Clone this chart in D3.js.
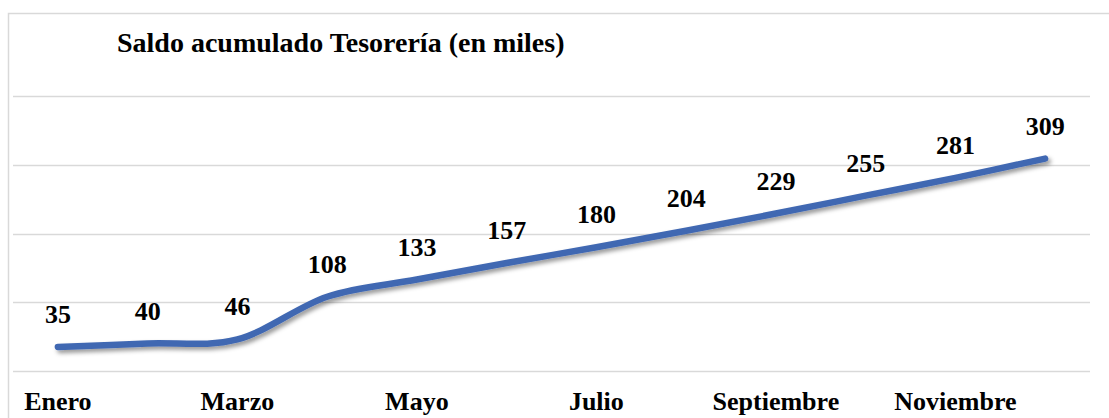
<!DOCTYPE html>
<html>
<head>
<meta charset="utf-8">
<script src="https://cdn.jsdelivr.net/npm/d3@7"></script>
<style>
  html, body { margin: 0; padding: 0; background: #ffffff; }
  svg { display: block; }
</style>
</head>
<body>
<script>
const months = ["Enero","Febrero","Marzo","Abril","Mayo","Junio","Julio","Agosto","Septiembre","Octubre","Noviembre","Diciembre"];
const saldo = [35, 40, 46, 108, 133, 157, 180, 204, 229, 255, 281, 309];
const shownMonths = ["Enero","Marzo","Mayo","Julio","Septiembre","Noviembre"];
const gridValues = [0, 100, 200, 300, 400];
const title = "Saldo acumulado Tesorería (en miles)";

const FONT = "'Liberation Serif', 'Times New Roman', serif";
const W = 1109, H = 418;
const svg = d3.select("body").append("svg").attr("width", W).attr("height", H)
  .attr("font-family", FONT).attr("font-weight", "bold");

// chart border
svg.append("rect").attr("x", 8.5).attr("y", 13.5).attr("width", 1130).attr("height", 430)
  .attr("fill", "#fff").attr("stroke", "#d9d9d9").attr("stroke-width", 1.5);

const x = d3.scaleBand().domain(months).range([13, 1090]);
const y = d3.scaleLinear().domain([0, 400]).range([371, 96]);

// gridlines
svg.append("g").selectAll("line").data(gridValues).join("line")
  .attr("x1", 13).attr("x2", 1090)
  .attr("y1", d => Math.round(y(d)) + 0.5).attr("y2", d => Math.round(y(d)) + 0.5)
  .attr("stroke", "#d9d9d9").attr("stroke-width", 1.5);

// shadow filter
const defs = svg.append("defs");
const f = defs.append("filter").attr("id", "sh").attr("x", "-10%").attr("y", "-50%").attr("width", "120%").attr("height", "200%");
f.append("feDropShadow").attr("dx", 2.5).attr("dy", 3).attr("stdDeviation", 2.2)
  .attr("flood-color", "#000").attr("flood-opacity", 0.4);

const cx = d => x(d) + x.bandwidth() / 2;

const line = d3.line()
  .x((d, i) => cx(months[i]))
  .y(d => y(d))
  .curve(d3.curveCardinal.tension(0));

svg.append("path").datum(saldo)
  .attr("d", line)
  .attr("fill", "none")
  .attr("stroke", "#4168B2")
  .attr("stroke-width", 6.5)
  .attr("stroke-linecap", "round")
  .attr("filter", "url(#sh)");

// data labels
svg.append("g").selectAll("text").data(saldo).join("text")
  .attr("x", (d, i) => cx(months[i]))
  .attr("y", d => y(d) - 24)
  .attr("text-anchor", "middle")
  .attr("font-size", 26)
  .attr("fill", "#000")
  .text(d => d);

// x axis labels
svg.append("g").selectAll("text").data(shownMonths).join("text")
  .attr("x", d => cx(d))
  .attr("y", 410)
  .attr("text-anchor", "middle")
  .attr("font-size", 26)
  .attr("fill", "#000")
  .text(d => d);

// title
svg.append("text").attr("x", 117).attr("y", 52).attr("font-size", 28).attr("fill", "#000").text(title);
</script>
</body>
</html>
